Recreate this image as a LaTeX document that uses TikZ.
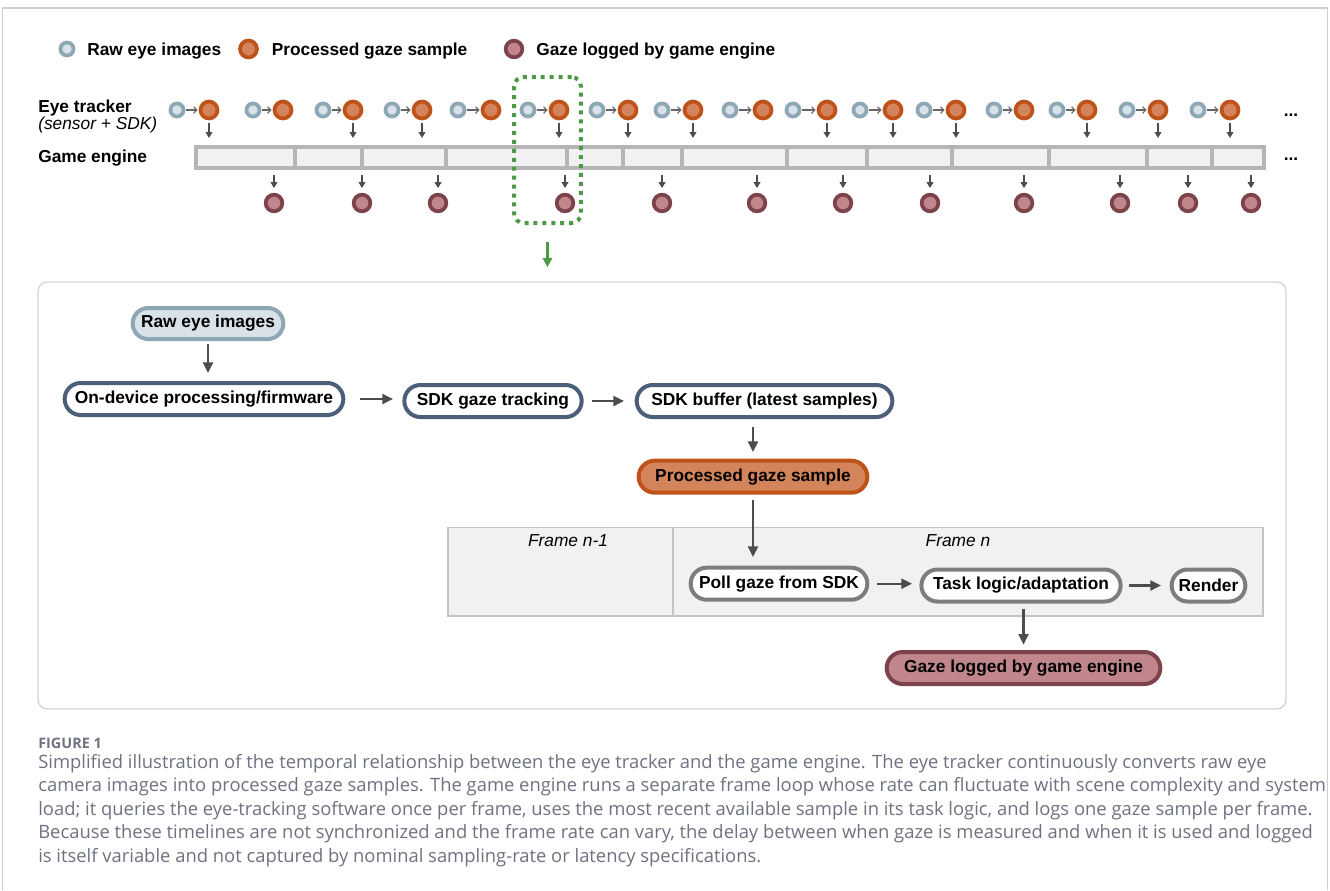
\documentclass[tikz,border=0pt]{standalone}
\usepackage{fontspec}
\setmainfont{Liberation Sans}
\newfontfamily\capfont{Open Sans}
\usetikzlibrary{arrows.meta,shapes.misc}
\definecolor{rawfill}{HTML}{D9E2E9}
\definecolor{rawline}{HTML}{8DA7B4}
\definecolor{procfill}{HTML}{D4845A}
\definecolor{procline}{HTML}{BF5219}
\definecolor{logfill}{HTML}{C0868C}
\definecolor{logline}{HTML}{7D434A}
\definecolor{slate}{HTML}{4B6078}
\definecolor{arr}{HTML}{4D4D4D}
\definecolor{tinyarr}{HTML}{666666}
\definecolor{bargray}{HTML}{B5B5B5}
\definecolor{barfill}{HTML}{F1F1F1}
\definecolor{bandline}{HTML}{C4C4C4}
\definecolor{greendot}{HTML}{4C9A48}
\definecolor{captxt}{HTML}{6E7280}
\definecolor{panelline}{HTML}{D4D4D4}
\definecolor{frameline}{HTML}{CFCFCF}
\definecolor{pollline}{HTML}{7D7D7D}
\tikzset{
  rawdot/.style={circle, draw=rawline, fill=rawfill, line width=2.8pt, minimum size=9.8pt, inner sep=0pt},
  procdot/.style={circle, draw=procline, fill=procfill, line width=2.8pt, minimum size=12.7pt, inner sep=0pt},
  logdot/.style={circle, draw=logline, fill=logfill, line width=2.8pt, minimum size=12.5pt, inner sep=0pt},
  tinyarrow/.style={draw=tinyarr, line width=0.9pt, shorten >=0.8pt, shorten <=0.6pt, -{Straight Barb[length=2.4pt,width=5pt]}},
  downarrow/.style={draw=arr, line width=1.3pt, -{Triangle[length=4.5pt,width=5pt]}},
  flowarrow/.style={draw=arr, line width=1.7pt, -{Triangle[length=8pt,width=7.5pt]}},
  pill/.style={rounded rectangle, line width=3pt, minimum height=24pt, inner xsep=2pt,
               font=\fontsize{13}{15}\selectfont\bfseries},
  lbl/.style={font=\fontsize{13}{15}\selectfont\bfseries, inner sep=0pt},
  ilbl/.style={font=\fontsize{13}{15}\selectfont\itshape, inner sep=0pt},
  capline/.style={font=\capfont\fontsize{13.8}{16}\selectfont, text=captxt, inner sep=0pt, anchor=base west},
}
\begin{document}
\begin{tikzpicture}[x=0.75pt,y=-0.75pt]
\useasboundingbox (0,0) rectangle (1330,890);
% page frame
\draw[frameline, line width=0.8pt] (2.5,890) -- (2.5,7.5) -- (1327.5,7.5) -- (1327.5,890);
\draw[frameline, line width=1.5pt] (2.5,7.5) -- (1327.5,7.5);

% legend
\node[rawdot] (lr) at (67,49) {};
\node[lbl, anchor=base west] (lrt) at (87,55.5) {Raw eye images};
\node[procdot] (lp) at (248.5,49) {};
\node[lbl, anchor=base west] (lpt) at (271.5,55.5) {Processed gaze sample};
\node[logdot] (lg) at (514,49) {};
\node[lbl, anchor=base west] (lgt) at (536,55.5) {Gaze logged by game engine};

% row labels
\node[inner sep=0pt, align=left, anchor=north west, font=\fontsize{13}{10.2}\selectfont] (et) at (38,99.5)
  {\bfseries Eye tracker\\\itshape (sensor + SDK)};
\node[lbl, anchor=base west] (ge) at (38,162) {Game engine};
\node[lbl, anchor=base] (dots1) at (1291,116) {...};
\node[lbl, anchor=base] (dots2) at (1291,160) {...};

% game engine bar
\draw[bargray, fill=barfill, line width=3pt] (196,147) rectangle (1264,168);
\foreach \d in {295,362,446,567,623,682,787,867,952,1049,1147,1212}
  \draw[bargray, line width=3pt] (\d,147) -- (\d,168);

% eye tracker samples
\foreach \rx/\px/\ha [count=\i] in {177/209/1, 253/283/0, 323/353/1, 392/422/1, 458/491/0,
    528/559/1, 597/628/1, 662/693/1, 730/763/0, 793/827/1, 860/893/1, 924/956/1,
    994/1024/0, 1057/1087/1, 1127/1158/1, 1198/1230/1} {
  \node[rawdot] (r\i) at (\rx,110) {};
  \node[procdot] (p\i) at (\px,110) {};
  \draw[tinyarrow] (r\i) -- (p\i);
  \ifnum\ha=1
    \coordinate (pe\i) at (\px,138);
    \draw[downarrow] ([yshift=-2pt]p\i.south) -- (pe\i);
  \fi
}

% logged samples
\foreach \gx [count=\j] in {274,362,438,565,662,757,843,930,1024,1120,1188,1251} {
  \node[logdot] (g\j) at (\gx,203) {};
  \coordinate (ga\j) at (\gx,175);
  \draw[downarrow] (ga\j) -- ([yshift=3.5pt]g\j.north);
}

% zoom box
\node[draw=greendot, line width=3pt, dash pattern=on 3pt off 3.7pt, rounded corners=7pt,
      minimum width=50pt, minimum height=109.5pt, inner sep=0pt] (zoom) at (547.5,150) {};
\draw[greendot, line width=1.8pt, -{Triangle[length=7pt,width=7pt]}]
  ([yshift=-12.5pt]zoom.south) -- ++(0,25.5);

% panel
\draw[panelline, line width=1pt, rounded corners=7pt] (38,282) rectangle (1286,709);
\draw[bandline, fill=barfill, line width=1.4pt] (448,527.5) rectangle (1263,616);
\draw[bandline, line width=1.4pt] (673,527.5) -- (673,616);
\node[ilbl, anchor=base] (fn1) at (568,546) {Frame n-1};
\node[ilbl, anchor=base] (fn) at (958,546) {Frame n};

% flow nodes
\node[pill, draw=rawline, fill=rawfill, minimum width=117pt, minimum height=23.25pt] (raw) at (208,323.5) {Raw eye images};
\node[pill, draw=slate, fill=white, minimum width=213pt] (ondev) at (204,399) {On-device processing/firmware};
\node[pill, draw=slate, fill=white, minimum width=137pt] (sdk) at (493,401) {SDK gaze tracking};
\node[pill, draw=slate, fill=white, minimum width=195.75pt] (buf) at (764.5,401) {SDK buffer (latest samples)};
\node[pill, draw=procline, fill=procfill, minimum width=175.5pt] (proc) at (753,476.7) {Processed gaze sample};
\node[pill, draw=pollline, fill=white, minimum width=136.5pt] (poll) at (779,583.7) {Poll gaze from SDK};
\node[pill, draw=pollline, fill=white, minimum width=153.4pt] (task) at (1021,585.5) {Task logic/adaptation};
\node[pill, draw=pollline, fill=white, minimum width=59.25pt] (render) at (1208.5,585.5) {Render};
\node[pill, draw=logline, fill=logfill, minimum width=209.25pt] (logged) at (1023.5,668) {Gaze logged by game engine};

% flow arrows
\draw[flowarrow, shorten <=2.5pt, shorten >=6pt] (raw.south) -- (raw.south |- ondev.north);
\draw[flowarrow, shorten <=11pt, shorten >=7pt] (ondev.east) -- (ondev.east -| sdk.west);
\draw[flowarrow, shorten <=6pt, shorten >=8pt] (sdk.east) -- (sdk.east -| buf.west);
\draw[flowarrow, shorten <=6pt, shorten >=5pt] (proc.north |- buf.south) -- (proc.north);
\draw[flowarrow, shorten <=3.75pt, shorten >=6.5pt] (proc.south) -- (proc.south |- poll.north);
\draw[flowarrow, shorten <=6pt, shorten >=5.5pt] (poll.east) -- (poll.east -| task.west);
\draw[flowarrow, shorten <=5pt, shorten >=6.5pt] (task.east) -- (task.east -| render.west);
\draw[flowarrow, shorten <=3.75pt, shorten >=4pt] (logged.north |- task.south) -- (logged.north);

% caption
\node[font=\capfont\bfseries\fontsize{10.8}{12}\selectfont, text=captxt, inner sep=0pt, anchor=base west] (fig) at (38,748.5) {FIGURE 1};
\node[capline] (c1) at (38,768) {Simplified illustration of the temporal relationship between the eye tracker and the game engine. The eye tracker continuously converts raw eye};
\node[capline] (c2) at (38,791.5) {camera images into processed gaze samples. The game engine runs a separate frame loop whose rate can fluctuate with scene complexity and system};
\node[capline] (c3) at (38,815) {load; it queries the eye-tracking software once per frame, uses the most recent available sample in its task logic, and logs one gaze sample per frame.};
\node[capline] (c4) at (38,838.5) {Because these timelines are not synchronized and the frame rate can vary, the delay between when gaze is measured and when it is used and logged};
\node[capline] (c5) at (38,862) {is itself variable and not captured by nominal sampling-rate or latency specifications.};
\end{tikzpicture}
\end{document}
